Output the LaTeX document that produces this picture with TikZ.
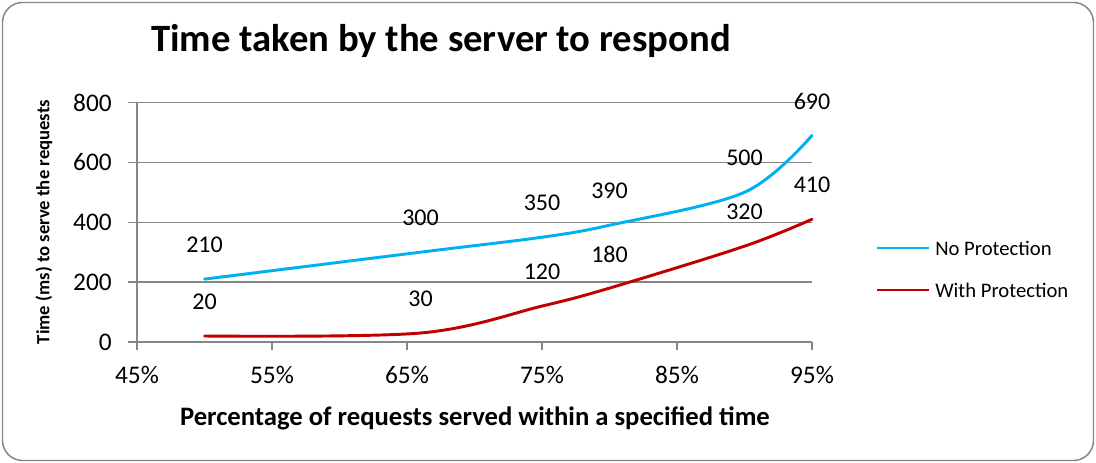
\documentclass[tikz,border=0pt]{standalone}
\usepackage{fontspec}
\setmainfont{Carlito}
\usetikzlibrary{positioning}

\definecolor{gridgray}{RGB}{134,134,134}
\definecolor{noprot}{RGB}{0,176,240}
\definecolor{withprot}{RGB}{192,0,0}

\tikzset{
  gridline/.style={draw=gridgray, line width=1.1pt},
  serie/.style={line width=2.2pt, line cap=round},
  ticklabel/.style={font=\fontsize{19}{22}\selectfont, inner sep=0pt},
  vallabel/.style={font=\fontsize{18}{20}\selectfont, inner sep=0pt},
  legendtext/.style={font=\fontsize{15.5}{18}\selectfont, inner sep=0pt, anchor=west},
}

\begin{document}
\begin{tikzpicture}[
    x=0.75pt, y=0.75pt, % one unit is one pixel
  ]
    \useasboundingbox (0,0) rectangle (1096,463);
    \draw[gridgray, line width=1.1pt, rounded corners=15pt] (2.5,2.5) rectangle (1093.5,460.5);

    % Title
    \node[font=\bfseries\fontsize{29}{33}\selectfont] (title) at (441,422) {Time taken by the server to respond};

    % Plot area, in data units
    \begin{scope}[shift={(137,121)}, x=10.125pt, y=0.22455pt]
      \foreach \v in {200,400,600,800}
        \draw[gridline] (0,\v) -- (50,\v);
      \draw[gridline] (0,0) -- (0,800);
      \draw[gridline] (0,0) -- (50,0);

      % y ticks
      \foreach \v in {0,200,...,800} {
        \draw[gridline] (0,\v) -- ++(-9*0.75pt,0);
        \node[ticklabel, anchor=east] (ytick\v) at ([xshift=-18.75pt]0,\v) {\v};
      }
      % x ticks
      \foreach \p in {45,55,...,95} {
        \draw[gridline] (\p-45,0) -- ++(0,-8*0.75pt);
        \node[ticklabel] (xtick\p) at ([yshift=-24.75pt]\p-45,0) {\p\%};
      }

      % No Protection
      \foreach \p/\v/\n in {50/210/1, 66/300/2, 75/350/3, 80/390/4, 90/500/5, 95/690/6} {
        \coordinate (np\n) at (\p-45,\v);
        \node[vallabel] (lnp\n) at ([yshift=25.5pt]np\n) {\v};
      }
      % With Protection
      \foreach \p/\v/\n in {50/20/1, 66/30/2, 75/120/3, 80/180/4, 90/320/5, 95/410/6} {
        \coordinate (wp\n) at (\p-45,\v);
        \node[vallabel] (lwp\n) at ([yshift=25.5pt]wp\n) {\v};
      }

      \draw[serie, noprot] plot[smooth, tension=0.55] coordinates {(np1) (np2) (np3) (np4) (np5) (np6)};
      \draw[serie, withprot] plot[smooth, tension=0.55] coordinates {(wp1) (wp2) (wp3) (wp4) (wp5) (wp6)};
    \end{scope}

    % Axis titles
    \node[font=\bfseries\fontsize{20}{23}\selectfont] (xtitle) at (475,45) {Percentage of requests served within a specified time};
    \node[font=\bfseries\fontsize{14}{16}\selectfont, rotate=90] (ytitle) at (44,241) {Time (ms) to serve the requests};

    % Legend
    \coordinate (legnpa) at (877,215);
    \coordinate (legnpb) at (929,215);
    \node[legendtext] (legnp) at (935,215) {No Protection};
    \draw[serie, noprot, line cap=butt] (legnpa) -- (legnpb);

    \coordinate (legwpa) at (877,173);
    \coordinate (legwpb) at (929,173);
    \node[legendtext] (legwp) at (935,173) {With Protection};
    \draw[serie, withprot, line cap=butt] (legwpa) -- (legwpb);
  \end{tikzpicture}
\end{document}
